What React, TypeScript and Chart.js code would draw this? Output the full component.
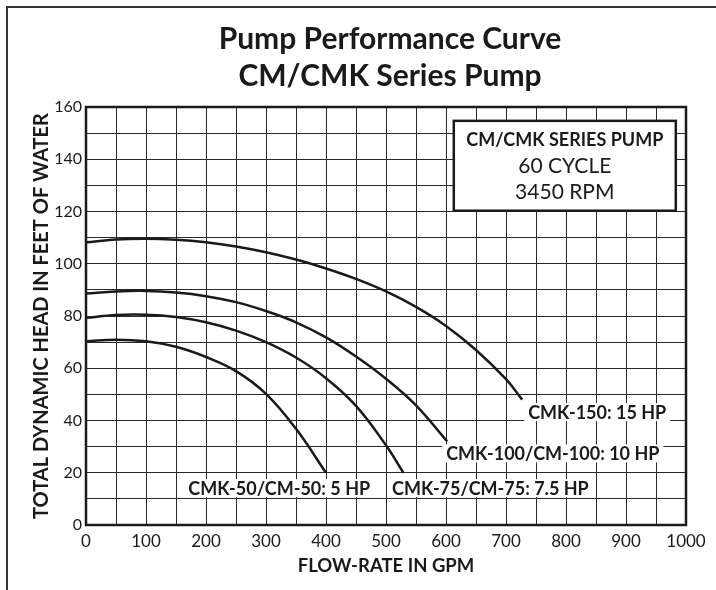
import React, { useEffect, useRef } from 'react';
import { Chart, registerables } from 'chart.js';

Chart.register(...registerables);

const FONT = 'Lato, "Open Sans", sans-serif';
const INK = '#1a1a1a';

// ---- text ----
const titleLines = ['Pump Performance Curve', 'CM/CMK Series Pump'];
const xAxisTitle = 'FLOW-RATE IN GPM';
const yAxisTitle = 'TOTAL DYNAMIC HEAD IN FEET OF WATER';
const infoLines = ['CM/CMK SERIES PUMP', '60 CYCLE', '3450 RPM'];

// ---- tick labels ----
const xTickLabels = [0, 100, 200, 300, 400, 500, 600, 700, 800, 900, 1000];
const yTickLabels = [0, 20, 40, 60, 80, 100, 120, 140, 160];

// ---- series (flow in GPM, head in feet) ----
const cmk150Flow = [0, 50, 100, 150, 200, 250, 300, 350, 400, 450, 500, 550, 600, 650, 700, 727];
const cmk150Head = [108.2, 109.3, 109.6, 109.2, 108.2, 106.6, 104.4, 101.6, 98.2, 94.2, 89.4, 83.5, 76.2, 67, 55.8, 48];

const cmk100Flow = [0, 50, 100, 150, 200, 250, 300, 350, 400, 450, 500, 550, 602];
const cmk100Head = [88.6, 89.4, 89.6, 89, 87.6, 85.3, 81.9, 77.6, 71.8, 64.5, 56, 45.8, 32];

const cmk75Flow = [0, 50, 100, 150, 200, 250, 300, 350, 400, 450, 500, 529];
const cmk75Head = [79.3, 80.4, 80.5, 79.6, 77.6, 74.4, 70, 64.1, 56.2, 45.6, 30.5, 20];

const cmk50Flow = [0, 50, 100, 150, 200, 250, 300, 350, 400];
const cmk50Head = [70.3, 70.9, 70.3, 68.2, 64.3, 58.9, 50.2, 36.8, 20];

const curveNames = ['CMK-150: 15 HP', 'CMK-100/CM-100: 10 HP', 'CMK-75/CM-75: 7.5 HP', 'CMK-50/CM-50: 5 HP'];

// annotation anchors (data coordinates of label centres)
const labelAnchors = [
  { x: 852, y: 43.2 },
  { x: 778, y: 27.4 },
  { x: 674, y: 14.1 },
  { x: 322, y: 14.1 },
];
const infoBox = { x0: 613, x1: 983, y0: 154.7, y1: 120.3 };

const toPoints = (xs: number[], ys: number[]) => xs.map((x, i) => ({ x, y: ys[i] }));

const decorPlugin = {
  id: 'decor',
  beforeDraw(chart: any) {
    const { ctx, width, height, chartArea } = chart;
    ctx.save();
    ctx.fillStyle = '#fff';
    ctx.fillRect(0, 0, width, height);
    // outer frame
    ctx.strokeStyle = '#333';
    ctx.lineWidth = 2;
    ctx.beginPath();
    ctx.moveTo(7, height + 5);
    ctx.lineTo(7, 7);
    ctx.lineTo(width + 5, 7);
    ctx.stroke();
    // title
    ctx.fillStyle = INK;
    ctx.font = `bold 30px ${FONT}`;
    ctx.textAlign = 'center';
    ctx.textBaseline = 'alphabetic';
    const cx = (chartArea.left + chartArea.right) / 2 + 4;
    ctx.fillText(titleLines[0], cx, 49);
    ctx.fillText(titleLines[1], cx, 86);
    ctx.restore();
  },
  afterDatasetsDraw(chart: any) {
    const { ctx, chartArea: a, scales } = chart;
    const x = scales.x;
    const y = scales.y;
    ctx.save();
    // plot frame
    ctx.strokeStyle = INK;
    ctx.lineWidth = 2.5;
    ctx.strokeRect(a.left, a.top, a.right - a.left, a.bottom - a.top);

    // info box
    const bl = x.getPixelForValue(infoBox.x0);
    const br = x.getPixelForValue(infoBox.x1);
    const bt = y.getPixelForValue(infoBox.y0);
    const bb = y.getPixelForValue(infoBox.y1);
    ctx.fillStyle = '#fff';
    ctx.fillRect(bl, bt, br - bl, bb - bt);
    ctx.lineWidth = 2.5;
    ctx.strokeRect(bl, bt, br - bl, bb - bt);
    const bcx = (bl + br) / 2;
    const bh = bb - bt;
    ctx.fillStyle = INK;
    ctx.textAlign = 'center';
    ctx.textBaseline = 'middle';
    ctx.font = `bold 18px ${FONT}`;
    ctx.fillText(infoLines[0], bcx, bt + bh * 0.21);
    ctx.font = `21px ${FONT}`;
    ctx.fillText(infoLines[1], bcx, bt + bh * 0.5);
    ctx.fillText(infoLines[2], bcx, bt + bh * 0.79);

    // curve labels
    ctx.font = `bold 18px ${FONT}`;
    curveNames.forEach((name, i) => {
      const px = x.getPixelForValue(labelAnchors[i].x);
      const py = y.getPixelForValue(labelAnchors[i].y);
      const w = ctx.measureText(name).width;
      ctx.fillStyle = '#fff';
      ctx.fillRect(px - w / 2 - 4, py - 9, w + 8, 18);
      ctx.fillStyle = INK;
      ctx.fillText(name, px, py + 1);
    });
    ctx.restore();
  },
};

export default function App() {
  const ref = useRef<HTMLCanvasElement | null>(null);

  useEffect(() => {
    if (!ref.current) return;
    const ds = (xs: number[], ys: number[]) => ({
      data: toPoints(xs, ys),
      borderColor: INK,
      borderWidth: 2.5,
      pointRadius: 0,
      fill: false,
      tension: 0.4,
    });
    const chart = new Chart(ref.current, {
      type: 'line',
      data: {
        datasets: [
          ds(cmk150Flow, cmk150Head),
          ds(cmk100Flow, cmk100Head),
          ds(cmk75Flow, cmk75Head),
          ds(cmk50Flow, cmk50Head),
        ],
      },
      options: {
        responsive: false,
        animation: false,
        devicePixelRatio: 1,
        layout: { padding: { left: 0, right: 30, top: 107, bottom: 0 } },
        plugins: {
          legend: { display: false },
          tooltip: { enabled: false },
          title: { display: false },
        },
        scales: {
          x: {
            type: 'linear',
            min: 0,
            max: 1000,
            afterFit: (s: any) => {
              s.height = 65;
            },
            ticks: {
              stepSize: 50,
              autoSkip: false,
              maxRotation: 0,
              padding: 6,
              color: INK,
              font: { family: FONT, size: 17 },
              callback: (v: any) => (xTickLabels.includes(Number(v)) ? String(v) : ''),
            },
            grid: { color: '#2a2a2a', lineWidth: 1, drawTicks: false },
            border: { display: false },
            title: {
              display: true,
              text: xAxisTitle,
              color: INK,
              font: { family: FONT, size: 18.5, weight: 'bold' },
              padding: { top: 0, bottom: 13 },
            },
          },
          y: {
            type: 'linear',
            min: 0,
            max: 160,
            afterFit: (s: any) => {
              s.width = 86;
            },
            ticks: {
              stepSize: 10,
              autoSkip: false,
              padding: 4,
              color: INK,
              font: { family: FONT, size: 16 },
              callback: (v: any) => (yTickLabels.includes(Number(v)) ? String(v) : ''),
            },
            grid: { color: '#2a2a2a', lineWidth: 1, drawTicks: false },
            border: { display: false },
            title: {
              display: true,
              text: yAxisTitle,
              color: INK,
              font: { family: FONT, size: 20, weight: 'bold' },
              padding: { top: 30, bottom: 0 },
            },
          },
        },
      },
      plugins: [decorPlugin],
    });
    return () => chart.destroy();
  }, []);

  return (
    <div style={{ position: 'fixed', left: 0, top: 0, width: 716, height: 590, background: '#fff' }}>
      <canvas ref={ref} width={716} height={590} style={{ display: 'block' }} />
    </div>
  );
}
